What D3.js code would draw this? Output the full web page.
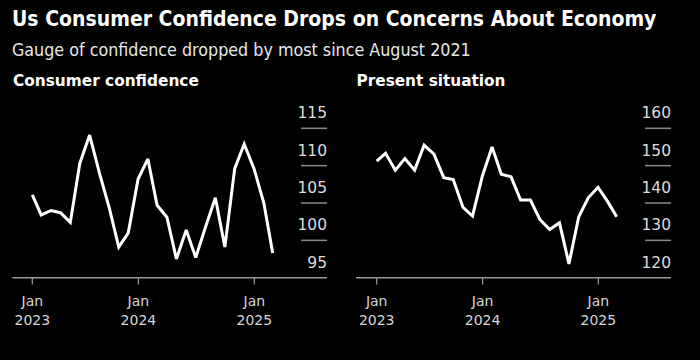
<!DOCTYPE html>
<html>
<head>
<meta charset="utf-8">
<script src="https://cdn.jsdelivr.net/npm/d3@7"></script>
<style>
  html, body { margin: 0; padding: 0; background: #000; }
  svg { display: block; }
  text { font-family: "DejaVu Sans", sans-serif; }
</style>
</head>
<body>
<svg id="chart" width="700" height="360"></svg>
<script>
// ---- data ----
const months = ["2023-01","2023-02","2023-03","2023-04","2023-05","2023-06","2023-07","2023-08","2023-09","2023-10","2023-11","2023-12",
                "2024-01","2024-02","2024-03","2024-04","2024-05","2024-06","2024-07","2024-08","2024-09","2024-10","2024-11","2024-12",
                "2025-01","2025-02"];
const confidence = [106.1,103.4,104.0,103.7,102.4,110.3,114.1,109.0,104.5,99.1,101.0,108.2,
                    110.9,104.7,103.1,97.5,101.4,97.7,101.8,105.7,99.1,109.6,112.9,109.6,
                    105.0,98.3];
const present = [151.2,153.3,148.8,151.9,148.8,155.5,153.1,146.8,146.3,138.8,136.5,147.2,
                 155.0,147.7,147.0,140.8,140.8,135.6,132.9,134.7,123.7,136.3,141.4,144.2,
                 140.3,136.3];
const xTickDates = ["2023-01","2024-01","2025-01"];
const xTickLabels = [["Jan","2023"],["Jan","2024"],["Jan","2025"]];
const confTicks = [95,100,105,110,115];
const presTicks = [120,130,140,150,160];

const title = "Us Consumer Confidence Drops on Concerns About Economy";
const subtitle = "Gauge of confidence dropped by most since August 2021";
const panelTitles = ["Consumer confidence","Present situation"];

// ---- helpers ----
const monthEnd = s => { const [y,m] = s.split("-").map(Number); return new Date(y, m, 0); };
const monthStart = s => { const [y,m] = s.split("-").map(Number); return new Date(y, m-1, 1); };
const dates = months.map(monthEnd);

const svg = d3.select("#chart");
svg.append("rect").attr("width",700).attr("height",360).attr("fill","#000");

// place a text at (x,y) and squeeze it horizontally to a target width
function fitText(parent, str, x, y, width, attrs) {
  const t = parent.append("text").attr("x",0).attr("y",0).text(str);
  Object.entries(attrs).forEach(([k,v]) => t.attr(k,v));
  const w = t.node().getComputedTextLength();
  const s = Math.min(1, width / w);
  t.attr("transform", `translate(${x},${y}) scale(${s},1)`);
  return t;
}

fitText(svg, title, 12, 25.5, 645, {fill:"#fff","font-weight":"bold","font-size":21});
fitText(svg, subtitle, 12, 56, 459, {fill:"#e8e8e8","font-size":17.5});

function panel(opts) {
  const g = svg.append("g");
  const x = d3.scaleTime().domain(d3.extent(dates)).range(opts.xRange);
  const y = d3.scaleLinear().domain(opts.yDomain).range([277.7, 128.3]);

  fitText(g, opts.title, opts.axisLeft+0.5, 85.7, opts.titleLen,
          {fill:"#fff","font-weight":"bold","font-size":16.5});

  // gridlines + labels on the right
  opts.ticks.forEach((t,i) => {
    if (i > 0) {
      g.append("line").attr("x1",opts.gridX0).attr("x2",opts.axisRight)
        .attr("y1",y(t)).attr("y2",y(t)).attr("stroke","#8a8a8a").attr("stroke-width",1.5);
    }
    g.append("text").attr("x",opts.axisRight).attr("y",y(t)-10)
      .attr("text-anchor","end").attr("fill","#dcdcdc").attr("font-size",15.5)
      .text(t);
  });

  // x axis baseline
  g.append("line").attr("x1",opts.axisLeft).attr("x2",opts.axisRight)
    .attr("y1",277.7).attr("y2",277.7).attr("stroke","#9a9a9a").attr("stroke-width",1.6);

  const [d0] = x.domain();
  xTickDates.forEach((s,i) => {
    let d = monthStart(s);
    if (d < d0) d = d0;
    const xp = x(d);
    g.append("line").attr("x1",xp).attr("x2",xp).attr("y1",277.7).attr("y2",284.5)
      .attr("stroke","#9a9a9a").attr("stroke-width",1.2);
    const t = g.append("text").attr("text-anchor","middle").attr("fill","#d6d6d6").attr("font-size",14);
    t.append("tspan").attr("x",xp).attr("y",305.5).text(xTickLabels[i][0]);
    t.append("tspan").attr("x",xp).attr("y",325).text(xTickLabels[i][1]);
  });

  const line = d3.line().x((d,i) => x(dates[i])).y(d => y(d));
  g.append("path").datum(opts.values).attr("d",line)
    .attr("fill","none").attr("stroke","#fff").attr("stroke-width",3)
    .attr("stroke-linejoin","miter").attr("stroke-miterlimit",3);
}

panel({ title: panelTitles[0], titleLen: 186, values: confidence, yDomain: [95,115], ticks: confTicks,
        xRange: [32.3, 272.7], axisLeft: 12.5, axisRight: 327, gridX0: 301 });
panel({ title: panelTitles[1], titleLen: 149, values: present, yDomain: [120,160], ticks: presTicks,
        xRange: [376.7, 616.7], axisLeft: 356, axisRight: 671, gridX0: 645 });
</script>
</body>
</html>
